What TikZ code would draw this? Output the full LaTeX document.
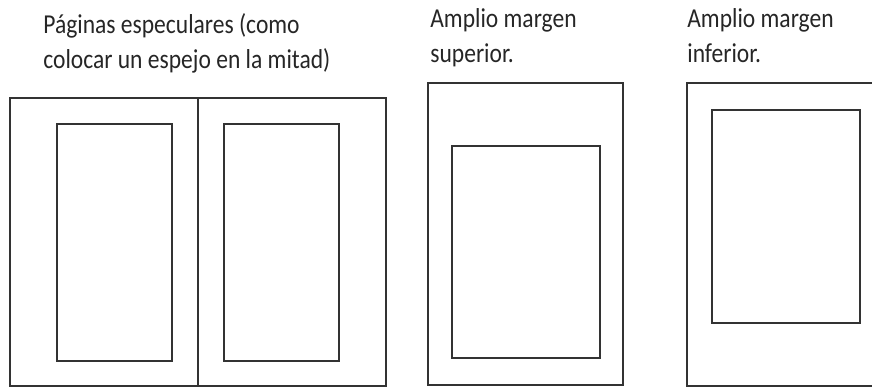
\documentclass[tikz,border=0pt]{standalone}
\usepackage{graphicx}
\usepackage{fontspec}
\setmainfont{Carlito}
\usetikzlibrary{positioning}

% letra algo más alta, como en el original
\newcommand{\alto}[1]{\scalebox{1}[1.16]{#1}}

\tikzset{
  pagina/.style={line width=1.1pt, draw=black!80},
  titulo/.style={anchor=base west, inner sep=0pt, font=\fontsize{13.4}{16}\selectfont, text=black!85}
}

\begin{document}
\begin{tikzpicture}[x=0.02cm, y=-0.02cm]

\useasboundingbox (0,0) rectangle (872,387);

% textos de cada ejemplo
\node[titulo] (esp1) at (43,33) {\alto{Páginas especulares (como}};
\node[titulo] (esp2) at (43,68) {\alto{colocar un espejo en la mitad)}};
\node[titulo] (sup1) at (430,27) {\alto{Amplio margen}};
\node[titulo] (sup2) at (430,62) {\alto{superior.}};
\node[titulo] (inf1) at (687,27) {\alto{Amplio margen}};
\node[titulo] (inf2) at (687,62) {\alto{inferior.}};

% páginas especulares: dos hojas y el pliegue en medio
\draw[pagina] (10,98) rectangle (386,386);
\draw[pagina] (198,98) -- (198,386);
% cajas de texto de cada hoja
\draw[pagina] (57,124) rectangle (172,361);
\draw[pagina] (224,124) rectangle (339,361);

% amplio margen superior
\draw[pagina] (428,83) rectangle (623,385);
\draw[pagina] (452,146) rectangle (600,358);

% amplio margen inferior (la hoja se sale por la derecha)
\draw[pagina] (872,83) -| (687,386) -- (872,386);
\draw[pagina] (712,110) rectangle (860,323);

\end{tikzpicture}
\end{document}
